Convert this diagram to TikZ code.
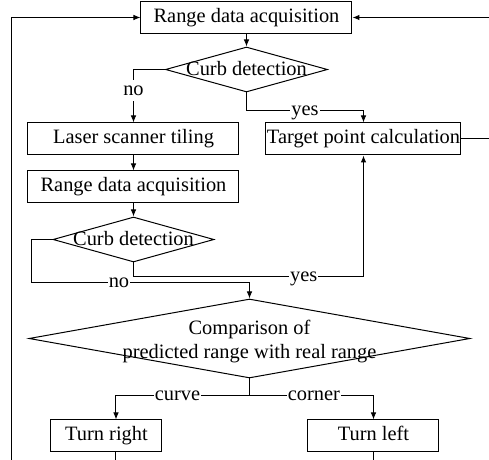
\documentclass[tikz,border=0pt]{standalone}
\usepackage{fontspec}
\setmainfont{Liberation Serif}
\usetikzlibrary{shapes.geometric,arrows.meta}
\begin{document}
\begin{tikzpicture}[
x=0.5pt, y=-0.5pt,
every node/.style={font=\fontsize{10.2}{12}\selectfont},
>={Latex[length=3.5pt,width=2.8pt]},
line width=0.5pt,
caja/.style={draw, inner sep=0pt, minimum height=16pt, text height=7pt, text depth=2pt},
decision/.style={draw, diamond, inner sep=0pt},
texto/.style={text height=7pt, text depth=2pt, yshift=-0.5pt},
etiqueta/.style={fill=white, inner sep=0.6pt, text height=7pt, text depth=2pt}
]
\useasboundingbox (0,0) rectangle (489,460);
% Adquisicion
\node[caja, minimum width=105.5pt] (acq1) at (246.5,17.5) {Range data acquisition};
\node[decision, minimum width=81pt, minimum height=22.5pt, label={[texto]center:Curb detection}] (curb1) at (246.5,69.5) {};
% Ramas
\node[caja, minimum width=105.5pt] (tiling) at (133.5,139) {Laser scanner tiling};
\node[caja, minimum width=97.5pt] (target) at (363.5,139) {Target point calculation};
\node[caja, minimum width=105.5pt] (acq2) at (133.5,187) {Range data acquisition};
\node[decision, minimum width=80.5pt, minimum height=22.5pt, label={[texto]center:Curb detection}] (curb2) at (133.5,239.5) {};
% Comparacion
\node[decision, minimum width=220.5pt, minimum height=39.5pt,
  label={[align=center, yshift=-1.5pt]center:{Comparison of\\predicted range with real range}}] (compare) at (249.5,338.5) {};
\node[caja, minimum width=55.5pt] (turnright) at (106.5,436) {Turn right};
\node[caja, minimum width=65.5pt] (turnleft) at (373.5,436) {Turn left};
% Puntos libres
\coordinate (izq) at (12,470);
\coordinate (der) at (497,17.5);
\coordinate (rodeo) at (32,283);
\coordinate (cruce) at (249.5,396);
\coordinate (bajada) at (116,470);
% Aristas
\draw[->] (izq) |- (acq1);
\draw[->] (target) -| (der) -- (acq1);
\draw[->] (acq1) -- (curb1);
\draw[->] (curb1) -| node[etiqueta, pos=0.7]{no} (tiling);
\draw[->] (curb1.south) -- ++(0,18) -| node[etiqueta, pos=0.25]{yes} (target);
\draw[->] (tiling) -- (acq2);
\draw[->] (acq2) -- (curb2);
\draw[->] (curb2.south) -- ++(0,14) -| node[etiqueta, pos=0.37]{yes} (target);
\draw[->] (curb2) -| (rodeo) -| node[etiqueta, pos=0.2]{no} (compare);
\draw (compare) -- (cruce);
\draw[->] (cruce) -| node[etiqueta, pos=0.27]{curve} (bajada |- turnright.north);
\draw[->] (cruce) -| node[etiqueta, pos=0.26]{corner} (turnleft);
\draw (bajada |- turnright.south) -- (bajada);
\draw (turnleft) -- (turnleft |- bajada);
\end{tikzpicture}
\end{document}
